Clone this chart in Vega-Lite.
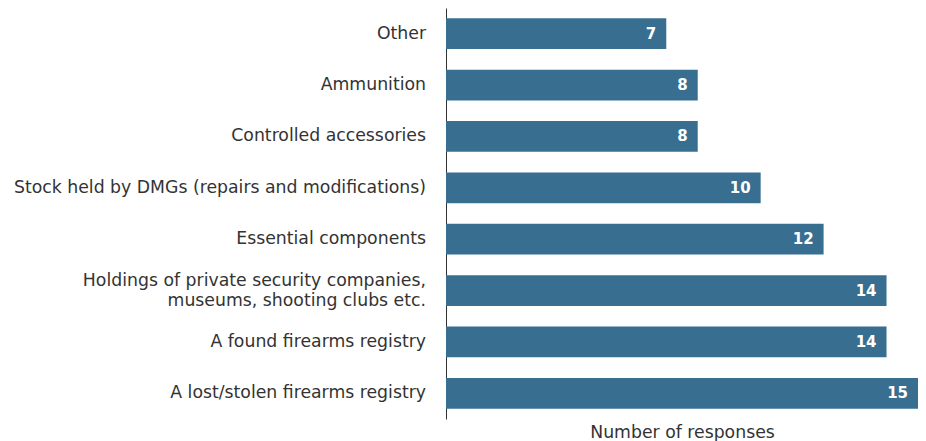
{
  "$schema": "https://vega.github.io/schema/vega-lite/v6.json",
  "width": 472,
  "height": 411,
  "autosize": "none",
  "padding": {"left": 446, "top": 8, "right": 8, "bottom": 22},
  "background": "white",
  "data": {
    "values": [
      {"category": "Other", "responses": 7},
      {"category": "Ammunition", "responses": 8},
      {"category": "Controlled accessories", "responses": 8},
      {"category": "Stock held by DMGs (repairs and modifications)", "responses": 10},
      {"category": "Essential components", "responses": 12},
      {"category": "Holdings of private security companies,|museums, shooting clubs etc.", "responses": 14},
      {"category": "A found firearms registry", "responses": 14},
      {"category": "A lost/stolen firearms registry", "responses": 15}
    ]
  },
  "encoding": {
    "y": {
      "field": "category",
      "type": "nominal",
      "sort": null,
      "scale": {"paddingInner": 0.4, "paddingOuter": 0.2},
      "axis": {
        "title": null,
        "ticks": false,
        "labels": false,
        "domainColor": "#333333",
        "domainWidth": 1
      }
    },
    "x": {
      "field": "responses",
      "type": "quantitative",
      "scale": {"domain": [0, 15], "nice": false},
      "axis": {
        "title": "Number of responses",
        "titleFont": "DejaVu Sans",
        "titleFontSize": 17.3,
        "titleFontWeight": "normal",
        "titleColor": "#333333",
        "titlePadding": 4,
        "labels": false,
        "ticks": false,
        "domain": false,
        "grid": false
      }
    }
  },
  "layer": [
    {"mark": {"type": "bar", "color": "#386f91"}},
    {
      "mark": {"type": "text", "align": "right", "dx": -10, "color": "white", "font": "DejaVu Sans", "fontWeight": "bold", "fontSize": 15},
      "encoding": {"text": {"field": "responses", "type": "quantitative"}}
    },
    {
      "transform": [{"filter": "indexof(datum.category, '|') < 0"}],
      "mark": {"type": "text", "align": "right", "baseline": "middle", "dx": -20, "color": "#333333", "font": "DejaVu Sans", "fontSize": 17.3},
      "encoding": {
        "x": {"datum": 0},
        "text": {"field": "category", "type": "nominal"}
      }
    },
    {
      "transform": [{"filter": "indexof(datum.category, '|') >= 0"}],
      "mark": {"type": "text", "align": "right", "baseline": "middle", "dx": -20, "dy": -10, "lineBreak": "|", "lineHeight": 20, "color": "#333333", "font": "DejaVu Sans", "fontSize": 17.3},
      "encoding": {
        "x": {"datum": 0},
        "text": {"field": "category", "type": "nominal"}
      }
    }
  ],
  "config": {"view": {"stroke": null}}
}
